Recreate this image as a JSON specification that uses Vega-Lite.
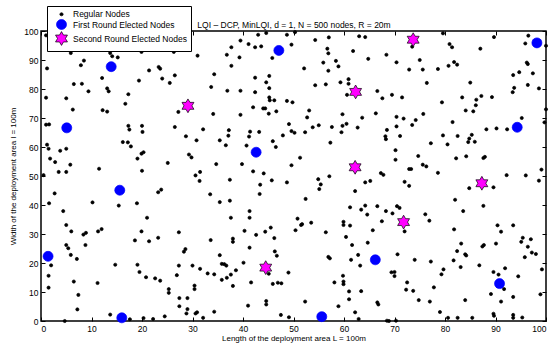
{
"$schema":"https://vega.github.io/schema/vega-lite/v6.json",
"width":505,"height":290,
"autosize":{"type":"none"},
"padding":{"left":41,"top":31,"right":10,"bottom":27},
"config":{"view":{"stroke":"black","strokeWidth":1.5},"font":"Liberation Sans",
 "axis":{"grid":false,"domain":false,"tickColor":"black","tickSize":-4,"tickWidth":1,"labelColor":"black","labelFontSize":8.5,"labelFont":"Liberation Sans","titleColor":"black","titleFontSize":8,"titleFont":"Liberation Sans","titleFontWeight":"normal","values":[0,10,20,30,40,50,60,70,80,90,100]}},
"data":{"values":[
{"x":1,"y":98.5,"t":"Regular Nodes"},{"x":9.6,"y":95.9,"t":"Regular Nodes"},{"x":11.7,"y":96.4,"t":"Regular Nodes"},{"x":19.0,"y":95.6,"t":"Regular Nodes"},{"x":21.3,"y":95.6,"t":"Regular Nodes"},{"x":24.4,"y":95.3,"t":"Regular Nodes"},{"x":5.8,"y":94.4,"t":"Regular Nodes"},{"x":9.2,"y":94.5,"t":"Regular Nodes"},{"x":5.9,"y":92.4,"t":"Regular Nodes"},{"x":19.9,"y":92.8,"t":"Regular Nodes"},{"x":13.7,"y":92.4,"t":"Regular Nodes"},{"x":14.1,"y":91.3,"t":"Regular Nodes"},{"x":15.2,"y":90.9,"t":"Regular Nodes"},{"x":8.5,"y":89.8,"t":"Regular Nodes"},{"x":7.9,"y":88.2,"t":"Regular Nodes"},{"x":1.2,"y":87.1,"t":"Regular Nodes"},{"x":21.4,"y":86.4,"t":"Regular Nodes"},{"x":23.3,"y":87.6,"t":"Regular Nodes"},{"x":23.6,"y":87.0,"t":"Regular Nodes"},{"x":24.0,"y":83.6,"t":"Regular Nodes"},{"x":19.4,"y":82.9,"t":"Regular Nodes"},{"x":12.1,"y":83.8,"t":"Regular Nodes"},{"x":6.5,"y":81.7,"t":"Regular Nodes"},{"x":8.1,"y":81.8,"t":"Regular Nodes"},{"x":13.1,"y":80.2,"t":"Regular Nodes"},{"x":13.4,"y":79.2,"t":"Regular Nodes"},{"x":9.4,"y":79.2,"t":"Regular Nodes"},{"x":17.3,"y":78.2,"t":"Regular Nodes"},{"x":1.0,"y":77.0,"t":"Regular Nodes"},{"x":5.0,"y":76.8,"t":"Regular Nodes"},{"x":16.7,"y":74.9,"t":"Regular Nodes"},{"x":6.3,"y":72.9,"t":"Regular Nodes"},{"x":12.2,"y":72.7,"t":"Regular Nodes"},{"x":13.1,"y":72.2,"t":"Regular Nodes"},{"x":1.0,"y":67.7,"t":"Regular Nodes"},{"x":1.6,"y":67.8,"t":"Regular Nodes"},{"x":17.3,"y":67.3,"t":"Regular Nodes"},{"x":17.5,"y":66.0,"t":"Regular Nodes"},{"x":20.0,"y":67.3,"t":"Regular Nodes"},{"x":20.1,"y":65.2,"t":"Regular Nodes"},{"x":16.2,"y":61.7,"t":"Regular Nodes"},{"x":17.2,"y":61.6,"t":"Regular Nodes"},{"x":17.8,"y":60.2,"t":"Regular Nodes"},{"x":1.2,"y":60.8,"t":"Regular Nodes"},{"x":1.5,"y":59.4,"t":"Regular Nodes"},{"x":3.8,"y":58.7,"t":"Regular Nodes"},{"x":5.0,"y":59.4,"t":"Regular Nodes"},{"x":20.3,"y":58.2,"t":"Regular Nodes"},{"x":19.9,"y":57.7,"t":"Regular Nodes"},{"x":19.1,"y":56.0,"t":"Regular Nodes"},{"x":1.8,"y":56.0,"t":"Regular Nodes"},{"x":2.8,"y":54.8,"t":"Regular Nodes"},{"x":5.8,"y":53.9,"t":"Regular Nodes"},{"x":11.5,"y":52.5,"t":"Regular Nodes"},{"x":20.0,"y":51.8,"t":"Regular Nodes"},{"x":3.5,"y":51.4,"t":"Regular Nodes"},{"x":5.0,"y":51.4,"t":"Regular Nodes"},{"x":0.5,"y":50.3,"t":"Regular Nodes"},
{"x":26.3,"y":92.8,"t":"Regular Nodes"},{"x":31.0,"y":91.5,"t":"Regular Nodes"},{"x":39.5,"y":96.7,"t":"Regular Nodes"},{"x":37.7,"y":94.4,"t":"Regular Nodes"},{"x":36.8,"y":91.8,"t":"Regular Nodes"},{"x":39.3,"y":90.9,"t":"Regular Nodes"},{"x":37.7,"y":88.0,"t":"Regular Nodes"},{"x":41.1,"y":95.5,"t":"Regular Nodes"},{"x":42.4,"y":94.4,"t":"Regular Nodes"},{"x":43.6,"y":94.7,"t":"Regular Nodes"},{"x":43.0,"y":98.7,"t":"Regular Nodes"},{"x":44.6,"y":99.3,"t":"Regular Nodes"},{"x":48.7,"y":98.7,"t":"Regular Nodes"},{"x":45.8,"y":90.7,"t":"Regular Nodes"},{"x":49.6,"y":95.3,"t":"Regular Nodes"},{"x":34.3,"y":85.1,"t":"Regular Nodes"},{"x":26.5,"y":84.7,"t":"Regular Nodes"},{"x":25.5,"y":82.1,"t":"Regular Nodes"},{"x":33.7,"y":80.7,"t":"Regular Nodes"},{"x":36.9,"y":79.4,"t":"Regular Nodes"},{"x":39.5,"y":79.4,"t":"Regular Nodes"},{"x":42.4,"y":83.9,"t":"Regular Nodes"},{"x":45.2,"y":84.5,"t":"Regular Nodes"},{"x":44.6,"y":82.3,"t":"Regular Nodes"},{"x":45.2,"y":80.3,"t":"Regular Nodes"},{"x":42.4,"y":78.9,"t":"Regular Nodes"},{"x":45.2,"y":77.1,"t":"Regular Nodes"},{"x":45.3,"y":76.1,"t":"Regular Nodes"},{"x":46.2,"y":76.1,"t":"Regular Nodes"},{"x":48.7,"y":75.9,"t":"Regular Nodes"},{"x":27.2,"y":72.1,"t":"Regular Nodes"},{"x":34.1,"y":71.4,"t":"Regular Nodes"},{"x":39.5,"y":71.1,"t":"Regular Nodes"},{"x":42.0,"y":73.7,"t":"Regular Nodes"},{"x":44.0,"y":73.3,"t":"Regular Nodes"},{"x":44.4,"y":73.3,"t":"Regular Nodes"},{"x":46.6,"y":72.3,"t":"Regular Nodes"},{"x":45.1,"y":71.5,"t":"Regular Nodes"},{"x":26.5,"y":66.9,"t":"Regular Nodes"},{"x":32.1,"y":66.1,"t":"Regular Nodes"},{"x":37.2,"y":65.8,"t":"Regular Nodes"},{"x":37.1,"y":63.9,"t":"Regular Nodes"},{"x":28.7,"y":63.7,"t":"Regular Nodes"},{"x":30.8,"y":62.3,"t":"Regular Nodes"},{"x":35.4,"y":62.3,"t":"Regular Nodes"},{"x":36.6,"y":60.6,"t":"Regular Nodes"},{"x":41.4,"y":65.3,"t":"Regular Nodes"},{"x":43.2,"y":65.2,"t":"Regular Nodes"},{"x":41.2,"y":63.6,"t":"Regular Nodes"},{"x":40.7,"y":60.5,"t":"Regular Nodes"},{"x":45.9,"y":62.0,"t":"Regular Nodes"},{"x":46.5,"y":60.0,"t":"Regular Nodes"},{"x":47.9,"y":64.0,"t":"Regular Nodes"},{"x":49.1,"y":67.9,"t":"Regular Nodes"},{"x":49.6,"y":65.5,"t":"Regular Nodes"},{"x":29.3,"y":57.4,"t":"Regular Nodes"},{"x":29.8,"y":56.4,"t":"Regular Nodes"},{"x":25.1,"y":54.5,"t":"Regular Nodes"},{"x":34.7,"y":54.1,"t":"Regular Nodes"},{"x":39.8,"y":54.1,"t":"Regular Nodes"},{"x":49.6,"y":53.7,"t":"Regular Nodes"},{"x":31.5,"y":51.4,"t":"Regular Nodes"},{"x":30.6,"y":50.2,"t":"Regular Nodes"},{"x":42.0,"y":51.6,"t":"Regular Nodes"},{"x":44.1,"y":50.9,"t":"Regular Nodes"},
{"x":50.3,"y":99.6,"t":"Regular Nodes"},{"x":57.0,"y":97.8,"t":"Regular Nodes"},{"x":54.3,"y":96.9,"t":"Regular Nodes"},{"x":63.0,"y":98.2,"t":"Regular Nodes"},{"x":64.2,"y":97.9,"t":"Regular Nodes"},{"x":73.5,"y":94.6,"t":"Regular Nodes"},{"x":56.7,"y":93.9,"t":"Regular Nodes"},{"x":56.9,"y":92.3,"t":"Regular Nodes"},{"x":61.8,"y":93.1,"t":"Regular Nodes"},{"x":68.4,"y":91.8,"t":"Regular Nodes"},{"x":64.8,"y":90.4,"t":"Regular Nodes"},{"x":55.9,"y":89.1,"t":"Regular Nodes"},{"x":58.4,"y":89.7,"t":"Regular Nodes"},{"x":58.9,"y":87.8,"t":"Regular Nodes"},{"x":56.9,"y":86.3,"t":"Regular Nodes"},{"x":52.1,"y":87.1,"t":"Regular Nodes"},{"x":70.4,"y":89.2,"t":"Regular Nodes"},{"x":72.9,"y":86.7,"t":"Regular Nodes"},{"x":75.0,"y":90.0,"t":"Regular Nodes"},{"x":59.3,"y":82.3,"t":"Regular Nodes"},{"x":60.9,"y":83.4,"t":"Regular Nodes"},{"x":60.9,"y":81.8,"t":"Regular Nodes"},{"x":60.6,"y":78.0,"t":"Regular Nodes"},{"x":54.3,"y":81.3,"t":"Regular Nodes"},{"x":56.4,"y":81.6,"t":"Regular Nodes"},{"x":66.6,"y":79.3,"t":"Regular Nodes"},{"x":67.6,"y":76.8,"t":"Regular Nodes"},{"x":69.5,"y":78.0,"t":"Regular Nodes"},{"x":71.5,"y":77.1,"t":"Regular Nodes"},{"x":49.8,"y":75.4,"t":"Regular Nodes"},{"x":53.1,"y":72.6,"t":"Regular Nodes"},{"x":52.7,"y":70.2,"t":"Regular Nodes"},{"x":59.7,"y":71.3,"t":"Regular Nodes"},{"x":63.6,"y":70.1,"t":"Regular Nodes"},{"x":66.3,"y":71.6,"t":"Regular Nodes"},{"x":70.4,"y":70.4,"t":"Regular Nodes"},{"x":71.8,"y":69.8,"t":"Regular Nodes"},{"x":74.2,"y":69.3,"t":"Regular Nodes"},{"x":73.5,"y":67.6,"t":"Regular Nodes"},{"x":50.2,"y":64.9,"t":"Regular Nodes"},{"x":52.3,"y":65.1,"t":"Regular Nodes"},{"x":53.8,"y":66.8,"t":"Regular Nodes"},{"x":55.0,"y":67.5,"t":"Regular Nodes"},{"x":57.6,"y":66.9,"t":"Regular Nodes"},{"x":59.7,"y":67.3,"t":"Regular Nodes"},{"x":60.5,"y":68.0,"t":"Regular Nodes"},{"x":59.5,"y":65.1,"t":"Regular Nodes"},{"x":62.7,"y":66.7,"t":"Regular Nodes"},{"x":68.5,"y":65.9,"t":"Regular Nodes"},{"x":70.4,"y":67.1,"t":"Regular Nodes"},{"x":68.2,"y":63.7,"t":"Regular Nodes"},{"x":68.3,"y":62.7,"t":"Regular Nodes"},{"x":71.1,"y":63.8,"t":"Regular Nodes"},{"x":57.3,"y":61.5,"t":"Regular Nodes"},{"x":70.2,"y":58.9,"t":"Regular Nodes"},{"x":70.2,"y":55.6,"t":"Regular Nodes"},{"x":51.3,"y":56.3,"t":"Regular Nodes"},{"x":74.7,"y":56.9,"t":"Regular Nodes"},{"x":72.9,"y":52.4,"t":"Regular Nodes"},{"x":73.3,"y":52.4,"t":"Regular Nodes"},{"x":67.3,"y":51.0,"t":"Regular Nodes"},{"x":67.8,"y":50.4,"t":"Regular Nodes"},{"x":57.1,"y":49.9,"t":"Regular Nodes"},
{"x":79.6,"y":99.2,"t":"Regular Nodes"},{"x":89.7,"y":97.9,"t":"Regular Nodes"},{"x":96.5,"y":98.4,"t":"Regular Nodes"},{"x":95.9,"y":95.7,"t":"Regular Nodes"},{"x":100,"y":94.9,"t":"Regular Nodes"},{"x":80.9,"y":95.5,"t":"Regular Nodes"},{"x":81.4,"y":94.4,"t":"Regular Nodes"},{"x":87.0,"y":93.9,"t":"Regular Nodes"},{"x":75.6,"y":86.7,"t":"Regular Nodes"},{"x":78.6,"y":86.9,"t":"Regular Nodes"},{"x":80.7,"y":88.0,"t":"Regular Nodes"},{"x":81.8,"y":89.3,"t":"Regular Nodes"},{"x":82.4,"y":88.4,"t":"Regular Nodes"},{"x":96.2,"y":89.1,"t":"Regular Nodes"},{"x":96.4,"y":88.6,"t":"Regular Nodes"},{"x":94.7,"y":85.8,"t":"Regular Nodes"},{"x":93.5,"y":84.8,"t":"Regular Nodes"},{"x":97.4,"y":85.4,"t":"Regular Nodes"},{"x":76.4,"y":82.1,"t":"Regular Nodes"},{"x":85.0,"y":82.2,"t":"Regular Nodes"},{"x":96.4,"y":81.4,"t":"Regular Nodes"},{"x":98.6,"y":80.2,"t":"Regular Nodes"},{"x":93.7,"y":80.4,"t":"Regular Nodes"},{"x":93.4,"y":78.9,"t":"Regular Nodes"},{"x":83.4,"y":77.1,"t":"Regular Nodes"},{"x":87.2,"y":77.6,"t":"Regular Nodes"},{"x":89.3,"y":77.2,"t":"Regular Nodes"},{"x":86.2,"y":76.3,"t":"Regular Nodes"},{"x":79.4,"y":75.4,"t":"Regular Nodes"},{"x":86.1,"y":74.4,"t":"Regular Nodes"},{"x":84.1,"y":72.6,"t":"Regular Nodes"},{"x":85.6,"y":72.3,"t":"Regular Nodes"},{"x":100,"y":73.0,"t":"Regular Nodes"},{"x":75.7,"y":71.4,"t":"Regular Nodes"},{"x":95.2,"y":70.0,"t":"Regular Nodes"},{"x":99.7,"y":68.5,"t":"Regular Nodes"},{"x":92.3,"y":66.1,"t":"Regular Nodes"},{"x":90.2,"y":66.4,"t":"Regular Nodes"},{"x":88.2,"y":66.1,"t":"Regular Nodes"},{"x":81.5,"y":68.6,"t":"Regular Nodes"},{"x":79.6,"y":64.0,"t":"Regular Nodes"},{"x":82.5,"y":63.8,"t":"Regular Nodes"},{"x":85.3,"y":64.2,"t":"Regular Nodes"},{"x":84.8,"y":62.9,"t":"Regular Nodes"},{"x":84.6,"y":61.7,"t":"Regular Nodes"},{"x":85.9,"y":61.8,"t":"Regular Nodes"},{"x":77.2,"y":61.3,"t":"Regular Nodes"},{"x":80.5,"y":60.9,"t":"Regular Nodes"},{"x":82.2,"y":56.1,"t":"Regular Nodes"},{"x":84.2,"y":56.8,"t":"Regular Nodes"},{"x":87.6,"y":56.2,"t":"Regular Nodes"},{"x":87.9,"y":56.6,"t":"Regular Nodes"},{"x":75.6,"y":53.9,"t":"Regular Nodes"},{"x":76.3,"y":53.3,"t":"Regular Nodes"},{"x":78.6,"y":51.1,"t":"Regular Nodes"},{"x":92.2,"y":50.3,"t":"Regular Nodes"},{"x":96.0,"y":50.2,"t":"Regular Nodes"},{"x":99.1,"y":52.2,"t":"Regular Nodes"},
{"x":2.7,"y":44.0,"t":"Regular Nodes"},{"x":1.6,"y":40.6,"t":"Regular Nodes"},{"x":15.4,"y":39.8,"t":"Regular Nodes"},{"x":10.2,"y":40.9,"t":"Regular Nodes"},{"x":4.4,"y":37.9,"t":"Regular Nodes"},{"x":19.0,"y":40.6,"t":"Regular Nodes"},{"x":23.2,"y":44.4,"t":"Regular Nodes"},{"x":23.8,"y":45.3,"t":"Regular Nodes"},{"x":21.0,"y":35.6,"t":"Regular Nodes"},{"x":5.0,"y":33.1,"t":"Regular Nodes"},{"x":6.0,"y":30.9,"t":"Regular Nodes"},{"x":8.4,"y":29.8,"t":"Regular Nodes"},{"x":8.9,"y":30.4,"t":"Regular Nodes"},{"x":11.3,"y":30.9,"t":"Regular Nodes"},{"x":12.0,"y":31.7,"t":"Regular Nodes"},{"x":19.9,"y":30.9,"t":"Regular Nodes"},{"x":18.6,"y":27.8,"t":"Regular Nodes"},{"x":21.4,"y":27.5,"t":"Regular Nodes"},{"x":23.2,"y":28.7,"t":"Regular Nodes"},{"x":5.0,"y":26.2,"t":"Regular Nodes"},{"x":5.4,"y":25.1,"t":"Regular Nodes"},{"x":8.8,"y":26.2,"t":"Regular Nodes"},{"x":5.9,"y":22.8,"t":"Regular Nodes"},{"x":7.1,"y":21.4,"t":"Regular Nodes"},{"x":2.0,"y":19.2,"t":"Regular Nodes"},{"x":14.7,"y":19.4,"t":"Regular Nodes"},{"x":19.1,"y":19.4,"t":"Regular Nodes"},{"x":19.5,"y":16.9,"t":"Regular Nodes"},{"x":20.8,"y":15.1,"t":"Regular Nodes"},{"x":22.6,"y":14.7,"t":"Regular Nodes"},{"x":23.6,"y":13.9,"t":"Regular Nodes"},{"x":1.5,"y":15.6,"t":"Regular Nodes"},{"x":1.5,"y":11.5,"t":"Regular Nodes"},{"x":6.5,"y":13.6,"t":"Regular Nodes"},{"x":11.2,"y":13.1,"t":"Regular Nodes"},{"x":7.4,"y":9.0,"t":"Regular Nodes"},{"x":7.2,"y":4.0,"t":"Regular Nodes"},{"x":4.7,"y":0,"t":"Regular Nodes"},{"x":13.7,"y":2.2,"t":"Regular Nodes"},{"x":17.6,"y":0.6,"t":"Regular Nodes"},{"x":20.3,"y":1.0,"t":"Regular Nodes"},{"x":22.2,"y":0.7,"t":"Regular Nodes"},{"x":24.5,"y":1.6,"t":"Regular Nodes"},
{"x":31.4,"y":48.3,"t":"Regular Nodes"},{"x":37.4,"y":48.7,"t":"Regular Nodes"},{"x":33.5,"y":43.7,"t":"Regular Nodes"},{"x":35.4,"y":41.0,"t":"Regular Nodes"},{"x":37.4,"y":41.5,"t":"Regular Nodes"},{"x":43.4,"y":47.0,"t":"Regular Nodes"},{"x":43.3,"y":43.8,"t":"Regular Nodes"},{"x":45.7,"y":48.5,"t":"Regular Nodes"},{"x":48.7,"y":47.8,"t":"Regular Nodes"},{"x":41.3,"y":37.9,"t":"Regular Nodes"},{"x":41.3,"y":35.6,"t":"Regular Nodes"},{"x":37.6,"y":35.6,"t":"Regular Nodes"},{"x":27.3,"y":30.6,"t":"Regular Nodes"},{"x":33.6,"y":27.9,"t":"Regular Nodes"},{"x":38.0,"y":28.4,"t":"Regular Nodes"},{"x":38.0,"y":27.3,"t":"Regular Nodes"},{"x":40.3,"y":31.1,"t":"Regular Nodes"},{"x":42.6,"y":29.7,"t":"Regular Nodes"},{"x":44.4,"y":30.8,"t":"Regular Nodes"},{"x":45.5,"y":32.2,"t":"Regular Nodes"},{"x":46.2,"y":28.6,"t":"Regular Nodes"},{"x":41.3,"y":25.3,"t":"Regular Nodes"},{"x":28.3,"y":23.9,"t":"Regular Nodes"},{"x":28.6,"y":24.8,"t":"Regular Nodes"},{"x":35.4,"y":22.7,"t":"Regular Nodes"},{"x":46.3,"y":24.0,"t":"Regular Nodes"},{"x":46.7,"y":22.5,"t":"Regular Nodes"},{"x":45.1,"y":16.3,"t":"Regular Nodes"},{"x":40.1,"y":20.1,"t":"Regular Nodes"},{"x":35.8,"y":19.7,"t":"Regular Nodes"},{"x":36.3,"y":19.6,"t":"Regular Nodes"},{"x":36.7,"y":19.1,"t":"Regular Nodes"},{"x":27.3,"y":19.1,"t":"Regular Nodes"},{"x":30.0,"y":19.1,"t":"Regular Nodes"},{"x":31.5,"y":18.0,"t":"Regular Nodes"},{"x":26.9,"y":15.8,"t":"Regular Nodes"},{"x":33.0,"y":16.4,"t":"Regular Nodes"},{"x":34.3,"y":16.1,"t":"Regular Nodes"},{"x":38.6,"y":17.5,"t":"Regular Nodes"},{"x":37.6,"y":16.0,"t":"Regular Nodes"},{"x":36.8,"y":14.9,"t":"Regular Nodes"},{"x":35.8,"y":14.2,"t":"Regular Nodes"},{"x":38.0,"y":12.1,"t":"Regular Nodes"},{"x":41.6,"y":13.3,"t":"Regular Nodes"},{"x":45.9,"y":12.8,"t":"Regular Nodes"},{"x":46.9,"y":13.2,"t":"Regular Nodes"},{"x":47.6,"y":13.0,"t":"Regular Nodes"},{"x":49.0,"y":16.7,"t":"Regular Nodes"},{"x":25.3,"y":11.0,"t":"Regular Nodes"},{"x":25.3,"y":9.7,"t":"Regular Nodes"},{"x":30.4,"y":12.2,"t":"Regular Nodes"},{"x":30.4,"y":11.0,"t":"Regular Nodes"},{"x":27.4,"y":7.9,"t":"Regular Nodes"},{"x":29.0,"y":7.9,"t":"Regular Nodes"},{"x":27.4,"y":5.1,"t":"Regular Nodes"},{"x":29.0,"y":4.1,"t":"Regular Nodes"},{"x":28.8,"y":2.6,"t":"Regular Nodes"},{"x":30.6,"y":2.6,"t":"Regular Nodes"},{"x":30.9,"y":3.0,"t":"Regular Nodes"},{"x":32.1,"y":1.1,"t":"Regular Nodes"},{"x":34.3,"y":3.2,"t":"Regular Nodes"},{"x":41.0,"y":5.3,"t":"Regular Nodes"},{"x":44.6,"y":6.9,"t":"Regular Nodes"},{"x":44.6,"y":5.7,"t":"Regular Nodes"},{"x":47.5,"y":2.1,"t":"Regular Nodes"},{"x":49.1,"y":1.3,"t":"Regular Nodes"},
{"x":54.9,"y":48.9,"t":"Regular Nodes"},{"x":55.4,"y":47.1,"t":"Regular Nodes"},{"x":55.1,"y":45.5,"t":"Regular Nodes"},{"x":62.2,"y":44.8,"t":"Regular Nodes"},{"x":64.2,"y":47.8,"t":"Regular Nodes"},{"x":65.2,"y":48.3,"t":"Regular Nodes"},{"x":72.0,"y":48.0,"t":"Regular Nodes"},{"x":72.9,"y":46.6,"t":"Regular Nodes"},{"x":52.4,"y":42.1,"t":"Regular Nodes"},{"x":50.8,"y":35.3,"t":"Regular Nodes"},{"x":51.7,"y":33.4,"t":"Regular Nodes"},{"x":51.5,"y":33.1,"t":"Regular Nodes"},{"x":50.4,"y":31.3,"t":"Regular Nodes"},{"x":53.5,"y":33.9,"t":"Regular Nodes"},{"x":56.4,"y":30.6,"t":"Regular Nodes"},{"x":59.9,"y":34.2,"t":"Regular Nodes"},{"x":59.9,"y":33.1,"t":"Regular Nodes"},{"x":61.2,"y":32.9,"t":"Regular Nodes"},{"x":61.2,"y":39.2,"t":"Regular Nodes"},{"x":63.4,"y":38.4,"t":"Regular Nodes"},{"x":64.2,"y":39.8,"t":"Regular Nodes"},{"x":64.6,"y":36.7,"t":"Regular Nodes"},{"x":66.6,"y":39.6,"t":"Regular Nodes"},{"x":68.3,"y":37.9,"t":"Regular Nodes"},{"x":69.6,"y":37.1,"t":"Regular Nodes"},{"x":70.5,"y":39.6,"t":"Regular Nodes"},{"x":71.0,"y":39.0,"t":"Regular Nodes"},{"x":67.5,"y":34.4,"t":"Regular Nodes"},{"x":72.0,"y":30.9,"t":"Regular Nodes"},{"x":65.7,"y":31.3,"t":"Regular Nodes"},{"x":60.4,"y":29.0,"t":"Regular Nodes"},{"x":61.6,"y":26.2,"t":"Regular Nodes"},{"x":64.7,"y":27.0,"t":"Regular Nodes"},{"x":56.9,"y":22.1,"t":"Regular Nodes"},{"x":57.2,"y":21.6,"t":"Regular Nodes"},{"x":61.4,"y":21.1,"t":"Regular Nodes"},{"x":62.8,"y":22.8,"t":"Regular Nodes"},{"x":63.2,"y":19.1,"t":"Regular Nodes"},{"x":70.6,"y":23.0,"t":"Regular Nodes"},{"x":74.0,"y":21.1,"t":"Regular Nodes"},{"x":59.8,"y":15.6,"t":"Regular Nodes"},{"x":59.9,"y":13.6,"t":"Regular Nodes"},{"x":59.9,"y":12.7,"t":"Regular Nodes"},{"x":58.1,"y":13.3,"t":"Regular Nodes"},{"x":69.4,"y":16.8,"t":"Regular Nodes"},{"x":70.0,"y":16.9,"t":"Regular Nodes"},{"x":70.0,"y":15.5,"t":"Regular Nodes"},{"x":72.5,"y":13.3,"t":"Regular Nodes"},{"x":72.3,"y":10.8,"t":"Regular Nodes"},{"x":73.7,"y":10.4,"t":"Regular Nodes"},{"x":61.0,"y":10.2,"t":"Regular Nodes"},{"x":63.4,"y":10.3,"t":"Regular Nodes"},{"x":61.0,"y":7.5,"t":"Regular Nodes"},{"x":52.3,"y":6.7,"t":"Regular Nodes"},{"x":58.9,"y":5.1,"t":"Regular Nodes"},{"x":66.6,"y":6.4,"t":"Regular Nodes"},{"x":66.8,"y":5.7,"t":"Regular Nodes"},{"x":74.8,"y":7.2,"t":"Regular Nodes"},{"x":62.2,"y":3.0,"t":"Regular Nodes"},{"x":62.9,"y":0.7,"t":"Regular Nodes"},{"x":68.5,"y":0.1,"t":"Regular Nodes"},{"x":68.9,"y":0,"t":"Regular Nodes"},{"x":70.3,"y":0.1,"t":"Regular Nodes"},
{"x":84.8,"y":45.8,"t":"Regular Nodes"},{"x":89.6,"y":46.1,"t":"Regular Nodes"},{"x":98.6,"y":48.4,"t":"Regular Nodes"},{"x":82.0,"y":41.8,"t":"Regular Nodes"},{"x":87.6,"y":39.7,"t":"Regular Nodes"},{"x":83.6,"y":37.9,"t":"Regular Nodes"},{"x":76.1,"y":36.8,"t":"Regular Nodes"},{"x":76.9,"y":34.6,"t":"Regular Nodes"},{"x":81.8,"y":31.6,"t":"Regular Nodes"},{"x":90.4,"y":33.0,"t":"Regular Nodes"},{"x":91.1,"y":30.8,"t":"Regular Nodes"},{"x":93.5,"y":33.0,"t":"Regular Nodes"},{"x":95.4,"y":28.7,"t":"Regular Nodes"},{"x":95.1,"y":27.3,"t":"Regular Nodes"},{"x":97.0,"y":28.2,"t":"Regular Nodes"},{"x":96.4,"y":25.6,"t":"Regular Nodes"},{"x":97.2,"y":23.6,"t":"Regular Nodes"},{"x":98.0,"y":23.1,"t":"Regular Nodes"},{"x":95.8,"y":22.0,"t":"Regular Nodes"},{"x":90.1,"y":26.7,"t":"Regular Nodes"},{"x":87.4,"y":25.7,"t":"Regular Nodes"},{"x":87.7,"y":26.2,"t":"Regular Nodes"},{"x":83.2,"y":26.7,"t":"Regular Nodes"},{"x":82.4,"y":24.1,"t":"Regular Nodes"},{"x":84.0,"y":23.0,"t":"Regular Nodes"},{"x":84.2,"y":22.6,"t":"Regular Nodes"},{"x":81.7,"y":20.9,"t":"Regular Nodes"},{"x":77.2,"y":20.5,"t":"Regular Nodes"},{"x":83.1,"y":18.6,"t":"Regular Nodes"},{"x":86.8,"y":19.2,"t":"Regular Nodes"},{"x":79.7,"y":17.8,"t":"Regular Nodes"},{"x":79.3,"y":16.1,"t":"Regular Nodes"},{"x":91.9,"y":18.2,"t":"Regular Nodes"},{"x":89.6,"y":16.9,"t":"Regular Nodes"},{"x":90.6,"y":16.0,"t":"Regular Nodes"},{"x":94.5,"y":15.4,"t":"Regular Nodes"},{"x":99.2,"y":17.8,"t":"Regular Nodes"},{"x":77.8,"y":11.6,"t":"Regular Nodes"},{"x":89.1,"y":9.3,"t":"Regular Nodes"},{"x":91.7,"y":11.0,"t":"Regular Nodes"},{"x":93.5,"y":8.3,"t":"Regular Nodes"},{"x":98.9,"y":9.2,"t":"Regular Nodes"},{"x":77.0,"y":6.7,"t":"Regular Nodes"},{"x":84.0,"y":7.2,"t":"Regular Nodes"},{"x":91.1,"y":6.7,"t":"Regular Nodes"},{"x":79.0,"y":3.1,"t":"Regular Nodes"},{"x":80.6,"y":1.1,"t":"Regular Nodes"},{"x":82.5,"y":1.1,"t":"Regular Nodes"},{"x":85.4,"y":1.1,"t":"Regular Nodes"},{"x":89.6,"y":2.5,"t":"Regular Nodes"},{"x":89.7,"y":1.8,"t":"Regular Nodes"},{"x":93.5,"y":2.1,"t":"Regular Nodes"},{"x":93.5,"y":1.1,"t":"Regular Nodes"},{"x":95.3,"y":1.2,"t":"Regular Nodes"},
{"x":13.9,"y":87.7,"t":"First Round Elected Nodes"},{"x":5.1,"y":66.6,"t":"First Round Elected Nodes"},{"x":47.1,"y":93.3,"t":"First Round Elected Nodes"},{"x":42.6,"y":58.2,"t":"First Round Elected Nodes"},{"x":98.2,"y":95.9,"t":"First Round Elected Nodes"},{"x":94.3,"y":66.8,"t":"First Round Elected Nodes"},{"x":15.6,"y":45.1,"t":"First Round Elected Nodes"},{"x":1.4,"y":22.3,"t":"First Round Elected Nodes"},{"x":16.0,"y":1.1,"t":"First Round Elected Nodes"},{"x":66.2,"y":21.1,"t":"First Round Elected Nodes"},{"x":55.6,"y":1.5,"t":"First Round Elected Nodes"},{"x":90.8,"y":12.9,"t":"First Round Elected Nodes"},
{"x":29.1,"y":74.2,"t":"Second Round Elected Nodes"},{"x":73.7,"y":97.0,"t":"Second Round Elected Nodes"},{"x":62.3,"y":79.0,"t":"Second Round Elected Nodes"},{"x":62.2,"y":53.0,"t":"Second Round Elected Nodes"},{"x":71.8,"y":34.1,"t":"Second Round Elected Nodes"},{"x":87.3,"y":47.5,"t":"Second Round Elected Nodes"},{"x":44.5,"y":18.4,"t":"Second Round Elected Nodes"}
]},
"layer":[
{"mark":{"type":"point","filled":true,"opacity":1,"strokeWidth":0.7},
 "encoding":{
  "x":{"field":"x","type":"quantitative","scale":{"domain":[0,100],"nice":false,"zero":false},"axis":{"orient":"bottom","title":"Length of the deployment area L = 100m","labelPadding":7,"titlePadding":2}},
  "y":{"field":"y","type":"quantitative","scale":{"domain":[0,100],"nice":false,"zero":false},"axis":{"orient":"left","title":"Width  of the deployment area l = 100m","labelPadding":7,"titlePadding":6}},
  "color":{"field":"t","type":"nominal","scale":{"domain":["Regular Nodes","First Round Elected Nodes","Second Round Elected Nodes"],"range":["#000000","#0000ff","#ff00ff"]},
   "legend":{"title":null,"orient":"none","legendX":6,"legendY":-25,"strokeColor":"black","fillColor":"white","padding":4,"labelFontSize":8.5,"labelFont":"Liberation Sans","labelColor":"black","labelOffset":4,"symbolOffset":3,"rowPadding":-6,"symbolStrokeWidth":0.7,"cornerRadius":0}},
  "shape":{"field":"t","type":"nominal","scale":{"domain":["Regular Nodes","First Round Elected Nodes","Second Round Elected Nodes"],"range":["circle","circle","M0,-1L0.289,-0.5L0.866,-0.5L0.577,0L0.866,0.5L0.289,0.5L0,1L-0.289,0.5L-0.866,0.5L-0.577,0L-0.866,-0.5L-0.289,-0.5Z"]}},
  "size":{"field":"t","type":"nominal","scale":{"domain":["Regular Nodes","First Round Elected Nodes","Second Round Elected Nodes"],"range":[10,190,270]}},
  "stroke":{"field":"t","type":"nominal","scale":{"domain":["Regular Nodes","First Round Elected Nodes","Second Round Elected Nodes"],"range":["#000000","#0000ff","#000000"]}}
 }},
{"mark":{"type":"point","opacity":0},
 "encoding":{
  "x":{"field":"x","type":"quantitative","scale":{"domain":[0,100],"nice":false,"zero":false},"axis":{"orient":"top","labels":false,"title":"LQI – DCP, MinLQI, d = 1, N = 500 nodes, R = 20m","titleFontSize":8.5,"titlePadding":1}},
  "y":{"field":"y","type":"quantitative","scale":{"domain":[0,100],"nice":false,"zero":false},"axis":{"orient":"right","labels":false,"title":null}}
 }}
],
"resolve":{"axis":{"x":"independent","y":"independent"}}
}
